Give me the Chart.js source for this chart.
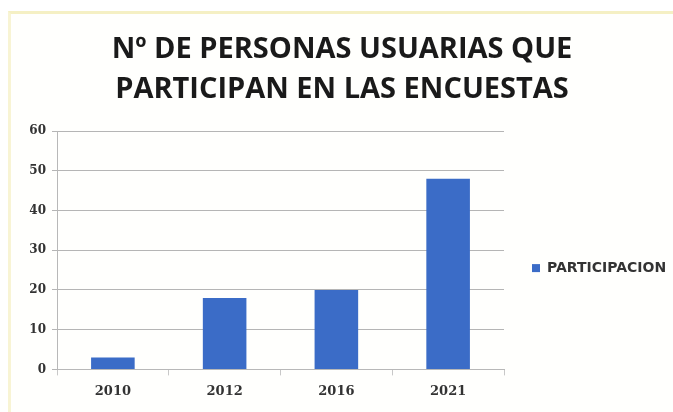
<!DOCTYPE html>
<html>
<head>
<meta charset="utf-8">
<script src="https://cdn.jsdelivr.net/npm/chart.js@4/dist/chart.umd.min.js"></script>
<style>
  html, body { margin: 0; padding: 0; background: #ffffff; }
  #frame {
    position: absolute; left: 8px; top: 11px; width: 665px; height: 401px;
    border-top: 3px solid #f5f0c4; border-left: 3px solid #f8f4d4;
    box-sizing: border-box; background: #fffffd;
  }
  #wrap { position: absolute; left: 0; top: 0; width: 673px; height: 412px; }
</style>
</head>
<body>
<div id="frame"></div>
<div id="wrap"><canvas id="c" width="673" height="412"></canvas></div>
<script>
const categories = ['2010', '2012', '2016', '2021'];
const participacion = [3, 18, 20, 48];
const seriesName = 'PARTICIPACION';
const titleLines = ['Nº DE PERSONAS USUARIAS QUE', 'PARTICIPAN EN LAS ENCUESTAS'];
const yTicks = [0, 10, 20, 30, 40, 50, 60];

new Chart(document.getElementById('c'), {
  type: 'bar',
  data: {
    labels: categories,
    datasets: [{
      label: seriesName,
      data: participacion,
      backgroundColor: '#3b6cc7',
      borderWidth: 0,
      barPercentage: 0.39,
      categoryPercentage: 1.0
    }]
  },
  options: {
    responsive: false,
    animation: false,
    layout: { padding: { left: 18, right: 7, top: 24, bottom: 5 } },
    plugins: {
      title: {
        display: true,
        text: titleLines,
        color: '#1a1a1a',
        font: { family: 'Open Sans', size: 29, weight: 'bold', lineHeight: 1.38 },
        padding: { top: 6, bottom: 21 }
      },
      legend: {
        position: 'right',
        title: { display: true, text: ' ', font: { size: 1 }, padding: { top: 104, bottom: 0 } },
        labels: {
          boxWidth: 8, boxHeight: 8,
          color: '#333',
          padding: 28,
          font: { family: 'DejaVu Sans', size: 14, weight: 'bold' }
        }
      },
      tooltip: { enabled: false }
    },
    scales: {
      x: {
        grid: { display: true, drawOnChartArea: false, offset: true, color: '#c8c8c8', tickLength: 6 },
        border: { color: '#b8b8b8' },
        ticks: { color: '#333', font: { family: 'DejaVu Serif', size: 13, weight: 'bold' }, padding: 8 }
      },
      y: {
        min: 0, max: 60,
        afterBuildTicks: (s) => { s.ticks = yTicks.map(v => ({ value: v })); },
        afterFit: (s) => { s.width = 39; },
        grid: { color: '#b5b5b5', tickLength: 5 },
        border: { color: '#b8b8b8' },
        ticks: { color: '#333', font: { family: 'DejaVu Serif', size: 12, weight: 'bold' }, padding: 6 }
      }
    }
  }
});
</script>
</body>
</html>
